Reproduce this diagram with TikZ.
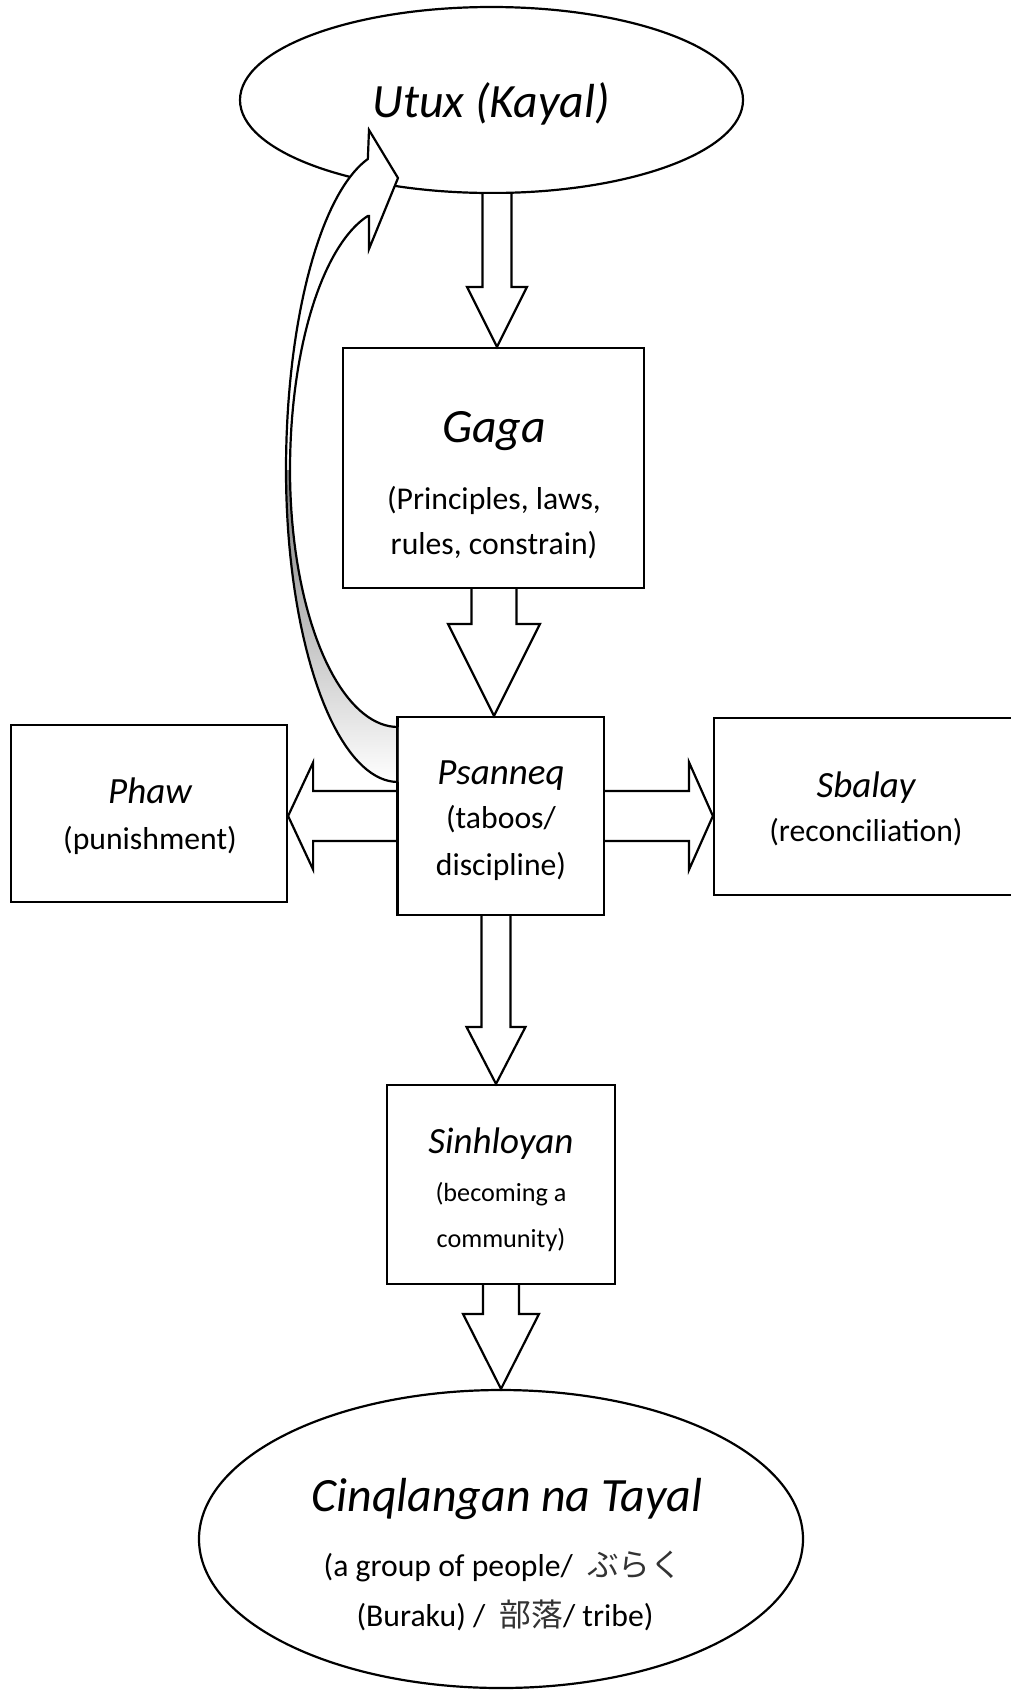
\documentclass[tikz,border=0pt]{standalone}
\usepackage{fontspec}
\setmainfont{Carlito}
\newfontfamily\jpfont{Noto Sans CJK JP}
\usetikzlibrary{shapes.geometric,calc}
\definecolor{shade}{RGB}{204,204,204}
\tikzset{
  lw/.style={line width=2.2pt},
  boxnode/.style={draw, lw, fill=white, rectangle, inner sep=0pt},
  ellnode/.style={draw, lw, fill=white, ellipse, inner sep=0pt},
  blk/.style={draw, lw, fill=white, line join=miter},
  bigit/.style={font=\fontsize{47.8}{57}\selectfont\itshape, anchor=base, inner sep=0pt},
  midit/.style={font=\fontsize{37}{44}\selectfont\itshape, anchor=base, inner sep=0pt},
  bodytxt/.style={font=\fontsize{31.7}{38}\selectfont, anchor=base, inner sep=0pt},
  smalltxt/.style={font=\fontsize{26.2}{31}\selectfont, anchor=base, inner sep=0pt},
}
% vertical block arrow: start anchor, tip, shaft half, head half, head length
\newcommand\blkdown[5]{\path[blk] let \p1=(#1), \p2=(#2) in
  (\x2-#3pt,\y1) -- (\x2-#3pt,\y2+#5pt) -- (\x2-#4pt,\y2+#5pt) -- (\p2)
  -- (\x2+#4pt,\y2+#5pt) -- (\x2+#3pt,\y2+#5pt) -- (\x2+#3pt,\y1);}
\newcommand\blkleft[5]{\path[blk] let \p1=(#1), \p2=(#2) in
  (\x1,\y2+#3pt) -- (\x2+#5pt,\y2+#3pt) -- (\x2+#5pt,\y2+#4pt) -- (\p2)
  -- (\x2+#5pt,\y2-#4pt) -- (\x2+#5pt,\y2-#3pt) -- (\x1,\y2-#3pt);}
\newcommand\blkright[5]{\path[blk] let \p1=(#1), \p2=(#2) in
  (\x1,\y2+#3pt) -- (\x2-#5pt,\y2+#3pt) -- (\x2-#5pt,\y2+#4pt) -- (\p2)
  -- (\x2-#5pt,\y2-#4pt) -- (\x2-#5pt,\y2-#3pt) -- (\x1,\y2-#3pt);}
\begin{document}
\begin{tikzpicture}[x=1pt,y=-1pt]
\useasboundingbox (0,0) rectangle (1011,1690);
% shapes
\node[ellnode, minimum width=503pt, minimum height=186pt] (utux) at (491.5,100) {};
\node[ellnode, minimum width=604pt, minimum height=298pt] (cinq) at (501,1539) {};
\node[boxnode, minimum width=301pt, minimum height=240pt] (gaga) at (493.5,468) {};
\node[boxnode, minimum width=206pt, minimum height=198pt] (psan) at (501,816) {};
\node[boxnode, minimum width=276pt, minimum height=177pt] (phaw) at (149,813.5) {};
\node[boxnode, minimum width=301pt, minimum height=177pt] (sbal) at (864.5,806.5) {};
\node[boxnode, minimum width=228pt, minimum height=199pt] (sinh) at (501,1184.5) {};
% block arrows
\blkdown{utux.south}{$(gaga.north)+(3.5,0)$}{14.5}{30}{60}
\blkdown{gaga.south}{$(psan.north)+(-7,0)$}{22.5}{46}{92}
\blkdown{psan.south}{$(sinh.north)+(-5,0)$}{14.5}{29.5}{57}
\blkdown{sinh.south}{cinq.north}{18}{38}{75}
\blkleft{psan.west}{phaw.east |- psan.west}{25}{53.5}{25}
\blkright{psan.east}{sbal.west |- psan.east}{25}{54}{24}
% curved arrow from Psanneq back to Utux
\fill[white] plot[domain=90:180,samples=40] ({398+112*cos(\x)},{470+312*sin(\x)})
  -- plot[domain=180:256.4,samples=40] ({393+107*cos(\x)},{470+320*sin(\x)})
  -- (369,130) -- (398,178) -- (369,249) -- (369,216)
  -- plot[domain=255.8:180,samples=40] ({393+103*cos(\x)},{470+262*sin(\x)})
  -- plot[domain=180:90,samples=40] ({398+108*cos(\x)},{470+257*sin(\x)}) -- cycle;
\fill[shade] plot[domain=90:180,samples=40] ({398+112*cos(\x)},{470+312*sin(\x)})
  -- plot[domain=180:90,samples=40] ({398+108*cos(\x)},{470+257*sin(\x)}) -- cycle;
\draw[lw, line join=miter] plot[domain=90:180,samples=40] ({398+112*cos(\x)},{470+312*sin(\x)})
  -- plot[domain=180:256.4,samples=40] ({393+107*cos(\x)},{470+320*sin(\x)})
  -- (369,130) -- (398,178) -- (369,249) -- (369,216)
  -- plot[domain=255.8:180,samples=40] ({393+103*cos(\x)},{470+262*sin(\x)})
  -- plot[domain=180:90,samples=40] ({398+108*cos(\x)},{470+257*sin(\x)});
\draw[lw] (psan.north west) -- (psan.south west);
% texts
\node[bigit] (tutux) at (491,117) {Utux (Kayal)};
\node[bigit] (tgaga) at (494,442) {Gaga};
\node[bodytxt] (tgaga2) at (494,509) {(Principles, laws,};
\node[bodytxt] (tgaga3) at (494,554) {rules, constrain)};
\node[midit] (tpsan) at (501,784) {Psanneq};
\node[bodytxt] (tpsan2) at (501,828) {(taboos/};
\node[bodytxt] (tpsan3) at (501,875) {discipline)};
\node[midit] (tphaw) at (150,803) {Phaw};
\node[bodytxt] (tphaw2) at (150,849) {(punishment)};
\node[midit] (tsbal) at (866,797) {Sbalay};
\node[bodytxt] (tsbal2) at (866,841) {(reconciliation)};
\node[midit] (tsinh) at (501,1153) {Sinhloyan};
\node[smalltxt] (tsinh2) at (501,1201) {(becoming a};
\node[smalltxt] (tsinh3) at (501,1247) {community)};
\node[bigit] (tcinq) at (507,1511) {Cinqlangan na Tayal};
\node[bodytxt] (tcinq2) at (503,1576) {(a group of people/\hspace{0.45em}{\jpfont\color{black!80}ぶらく}};
\node[bodytxt] (tcinq3) at (505,1626) {(Buraku) /\hspace{0.45em}{\jpfont\color{black!80}部落}/ tribe)};
\end{tikzpicture}
\end{document}
